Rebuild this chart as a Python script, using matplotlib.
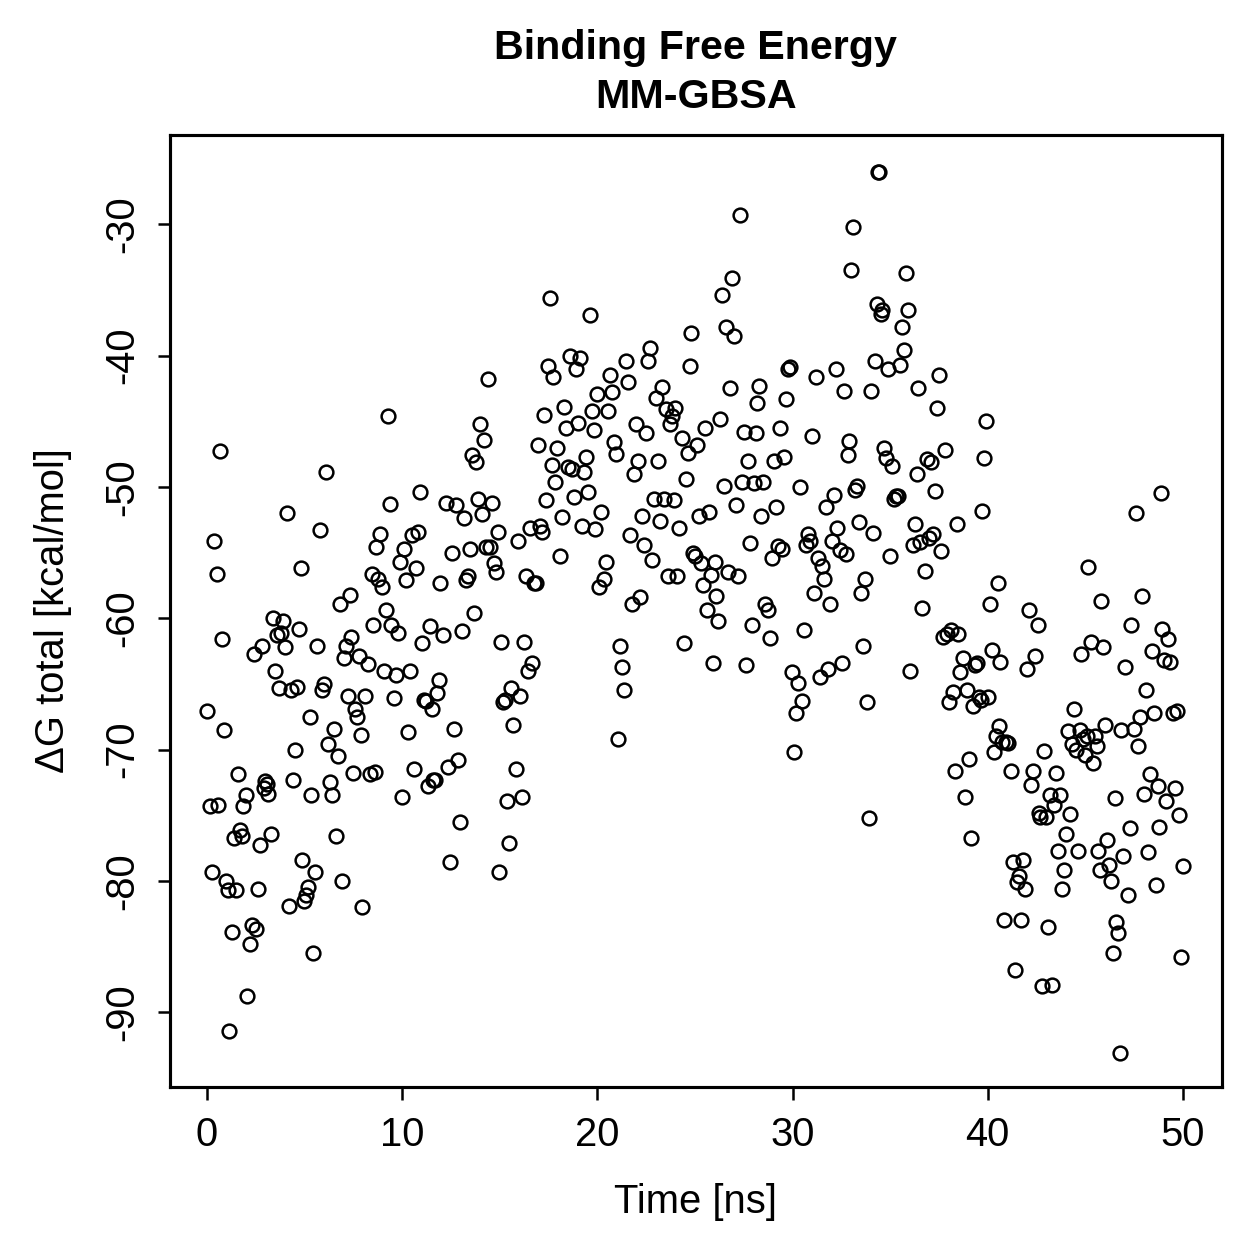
import matplotlib
matplotlib.use('Agg')
import matplotlib.pyplot as plt

plt.rcParams['font.family'] = ['Liberation Sans', 'DejaVu Sans']

# time [ns] and total binding free energy [kcal/mol]
time_ns = [
    0.0, 0.15, 0.25, 0.35, 0.5, 0.55, 0.65, 0.75, 0.85, 0.95,
    1.05, 1.15, 1.3, 1.4, 1.5, 1.6, 1.7, 1.8, 1.85, 2.0,
    2.05, 2.2, 2.3, 2.4, 2.5, 2.6, 2.7, 2.8, 2.9, 2.95,
    3.05, 3.1, 3.3, 3.4, 3.5, 3.6, 3.7, 3.8, 3.9, 4.0,
    4.1, 4.2, 4.3, 4.4, 4.5, 4.6, 4.7, 4.8, 4.85, 4.95,
    5.05, 5.15, 5.25, 5.35, 5.45, 5.55, 5.65, 5.8, 5.9, 6.0,
    6.1, 6.2, 6.3, 6.4, 6.5, 6.6, 6.7, 6.8, 6.9, 7.0,
    7.1, 7.2, 7.3, 7.4, 7.5, 7.6, 7.7, 7.8, 7.9, 7.95,
    8.1, 8.25, 8.35, 8.45, 8.5, 8.6, 8.65, 8.75, 8.85, 8.95,
    9.05, 9.15, 9.25, 9.35, 9.45, 9.6, 9.7, 9.8, 9.9, 10.0,
    10.1, 10.2, 10.3, 10.4, 10.5, 10.6, 10.7, 10.8, 10.9, 11.0,
    11.1, 11.2, 11.3, 11.4, 11.5, 11.6, 11.7, 11.8, 11.9, 11.95,
    12.1, 12.25, 12.35, 12.45, 12.55, 12.65, 12.75, 12.85, 12.95, 13.05,
    13.15, 13.25, 13.35, 13.45, 13.6, 13.7, 13.8, 13.9, 14.0, 14.1,
    14.2, 14.3, 14.4, 14.5, 14.6, 14.7, 14.8, 14.9, 14.95, 15.05,
    15.15, 15.25, 15.35, 15.45, 15.55, 15.7, 15.85, 15.95, 16.05, 16.15,
    16.25, 16.35, 16.45, 16.55, 16.65, 16.75, 16.85, 16.95, 17.05, 17.15,
    17.25, 17.35, 17.45, 17.55, 17.65, 17.75, 17.85, 17.95, 18.1, 18.2,
    18.3, 18.4, 18.5, 18.6, 18.7, 18.8, 18.9, 19.0, 19.1, 19.2,
    19.3, 19.4, 19.5, 19.6, 19.7, 19.8, 19.9, 20.0, 20.1, 20.2,
    20.35, 20.45, 20.55, 20.65, 20.75, 20.85, 20.95, 21.05, 21.15, 21.25,
    21.35, 21.45, 21.55, 21.65, 21.75, 21.9, 22.0, 22.1, 22.2, 22.3,
    22.4, 22.5, 22.6, 22.7, 22.8, 22.9, 23.0, 23.1, 23.2, 23.3,
    23.4, 23.5, 23.6, 23.7, 23.8, 23.9, 24.0, 24.1, 24.2, 24.35,
    24.45, 24.55, 24.65, 24.75, 24.8, 24.9, 25.0, 25.1, 25.2, 25.3,
    25.4, 25.5, 25.6, 25.7, 25.8, 25.9, 26.0, 26.1, 26.2, 26.3,
    26.4, 26.5, 26.6, 26.7, 26.8, 26.9, 27.0, 27.1, 27.2, 27.3,
    27.4, 27.5, 27.6, 27.7, 27.8, 27.9, 28.0, 28.1, 28.2, 28.3,
    28.4, 28.5, 28.6, 28.75, 28.85, 28.95, 29.05, 29.15, 29.25, 29.35,
    29.45, 29.55, 29.65, 29.75, 29.85, 29.95, 30.05, 30.2, 30.3, 30.4,
    30.5, 30.6, 30.7, 30.8, 30.9, 31.0, 31.1, 31.2, 31.3, 31.4,
    31.5, 31.6, 31.7, 31.8, 31.9, 32.0, 32.1, 32.2, 32.3, 32.45,
    32.55, 32.65, 32.75, 32.85, 32.9, 33.0, 33.1, 33.2, 33.3, 33.4,
    33.5, 33.6, 33.7, 33.8, 33.9, 34.0, 34.1, 34.2, 34.3, 34.4,
    34.45, 34.55, 34.6, 34.7, 34.8, 34.9, 35.0, 35.1, 35.2, 35.3,
    35.4, 35.5, 35.6, 35.7, 35.8, 35.9, 36.0, 36.15, 36.25, 36.35,
    36.45, 36.55, 36.65, 36.8, 36.9, 37.0, 37.1, 37.2, 37.3, 37.4,
    37.5, 37.6, 37.7, 37.8, 37.9, 38.0, 38.1, 38.2, 38.3, 38.4,
    38.5, 38.6, 38.75, 38.85, 38.95, 39.05, 39.15, 39.25, 39.35, 39.45,
    39.55, 39.65, 39.7, 39.8, 39.9, 40.0, 40.1, 40.2, 40.3, 40.4,
    40.5, 40.55, 40.65, 40.75, 40.85, 40.95, 41.05, 41.2, 41.3, 41.4,
    41.5, 41.6, 41.7, 41.8, 41.9, 42.0, 42.1, 42.2, 42.3, 42.4,
    42.55, 42.6, 42.7, 42.8, 42.9, 43.0, 43.1, 43.2, 43.3, 43.4,
    43.5, 43.6, 43.7, 43.8, 43.9, 44.0, 44.1, 44.2, 44.3, 44.4,
    44.5, 44.6, 44.7, 44.8, 44.9, 45.0, 45.1, 45.15, 45.3, 45.4,
    45.5, 45.6, 45.65, 45.75, 45.8, 45.9, 46.0, 46.1, 46.2, 46.3,
    46.4, 46.5, 46.55, 46.65, 46.75, 46.85, 46.95, 47.05, 47.2, 47.3,
    47.35, 47.5, 47.6, 47.7, 47.8, 47.9, 48.0, 48.1, 48.2, 48.3,
    48.4, 48.5, 48.6, 48.7, 48.75, 48.9, 48.95, 49.05, 49.15, 49.25,
    49.35, 49.5, 49.6, 49.7, 49.8, 49.9, 50.0,
]

dg_total = [
    -67.1, -74.3, -79.3, -54.1, -56.6, -74.2, -47.3, -61.6, -68.5, -80.0,
    -80.7, -91.4, -83.9, -76.7, -80.7, -71.9, -76.1, -76.6, -74.3, -73.5,
    -88.8, -84.8, -83.4, -62.7, -83.7, -80.6, -77.3, -62.1, -72.9, -72.4,
    -72.6, -73.4, -76.4, -60.0, -64.0, -61.3, -65.3, -61.1, -60.2, -62.2,
    -52.0, -81.9, -65.5, -72.3, -70.0, -65.2, -60.8, -56.2, -78.4, -81.5,
    -81.1, -80.5, -67.5, -73.5, -85.5, -79.3, -62.1, -53.3, -65.5, -65.0,
    -48.9, -69.6, -72.5, -73.5, -68.4, -76.6, -70.5, -58.9, -80.0, -63.0,
    -62.1, -65.9, -58.2, -61.4, -71.8, -66.9, -67.5, -62.9, -68.9, -82.0,
    -65.9, -63.5, -71.9, -56.6, -60.5, -71.7, -54.6, -57.0, -53.6, -57.6,
    -64.0, -59.4, -44.6, -51.3, -60.5, -66.1, -64.3, -61.1, -55.7, -73.6,
    -54.7, -57.1, -68.7, -64.0, -53.7, -71.5, -56.2, -53.4, -50.4, -61.9,
    -66.2, -66.3, -72.8, -60.6, -66.9, -72.3, -72.3, -65.7, -64.7, -57.3,
    -61.3, -51.2, -71.3, -78.6, -55.0, -68.4, -51.4, -70.8, -75.5, -61.0,
    -52.4, -57.1, -56.8, -54.7, -47.6, -59.6, -48.1, -50.9, -45.2, -52.1,
    -46.4, -54.6, -41.8, -54.6, -51.2, -55.8, -56.5, -53.4, -79.3, -61.8,
    -66.4, -66.2, -73.9, -77.1, -65.3, -68.1, -71.5, -54.1, -65.9, -73.6,
    -61.8, -56.8, -64.0, -53.1, -63.4, -57.3, -57.3, -46.8, -53.0, -53.4,
    -44.5, -51.0, -40.8, -35.6, -48.3, -41.6, -49.6, -47.0, -55.3, -52.3,
    -43.9, -45.5, -48.5, -40.0, -48.6, -50.8, -41.0, -45.1, -40.2, -53.0,
    -48.9, -47.7, -50.4, -36.9, -44.2, -45.7, -53.2, -42.9, -57.6, -51.9,
    -57.0, -55.7, -44.2, -41.5, -42.8, -46.6, -47.5, -69.2, -62.1, -63.7,
    -65.5, -40.4, -42.0, -53.7, -58.9, -49.0, -45.2, -48.0, -58.4, -52.2,
    -54.4, -45.9, -40.4, -39.4, -55.6, -50.9, -43.2, -48.0, -52.6, -42.4,
    -50.9, -44.1, -56.8, -45.2, -44.6, -51.0, -44.0, -56.8, -53.1, -46.3,
    -61.9, -49.4, -47.4, -40.8, -38.3, -55.0, -55.3, -46.8, -52.2, -55.8,
    -57.5, -45.5, -59.4, -51.9, -56.7, -63.4, -55.7, -58.3, -60.2, -44.8,
    -35.4, -49.9, -37.8, -56.5, -42.5, -34.1, -38.5, -51.4, -56.8, -29.3,
    -49.6, -45.8, -63.6, -48.0, -54.3, -60.5, -49.7, -45.9, -43.6, -42.3,
    -52.2, -49.6, -58.9, -59.4, -61.5, -55.4, -48.0, -51.5, -54.5, -45.5,
    -54.7, -47.7, -43.3, -41.0, -40.9, -64.1, -70.2, -67.2, -64.9, -50.0,
    -66.3, -60.9, -54.4, -53.6, -54.1, -46.1, -58.1, -41.6, -55.4, -64.5,
    -56.0, -57.0, -51.5, -63.9, -58.9, -54.1, -50.6, -41.0, -53.1, -54.8,
    -63.4, -42.7, -55.1, -47.6, -46.5, -33.5, -30.2, -50.2, -49.9, -52.7,
    -58.1, -62.1, -57.0, -66.4, -75.2, -42.7, -53.5, -40.4, -36.1, -26.0,
    -26.0, -36.8, -36.5, -47.0, -47.8, -41.0, -55.3, -48.4, -50.9, -50.7,
    -50.7, -40.7, -37.8, -39.6, -33.7, -36.5, -64.0, -54.4, -52.8, -49.0,
    -42.5, -54.2, -59.2, -56.4, -47.9, -53.9, -48.1, -53.6, -50.3, -44.0,
    -41.5, -54.9, -61.4, -47.2, -61.2, -66.4, -60.9, -65.6, -71.6, -52.8,
    -61.2, -64.1, -63.0, -73.6, -65.5, -70.7, -76.7, -66.7, -63.6, -63.4,
    -66.0, -66.2, -51.8, -47.8, -45.0, -66.0, -58.9, -62.4, -70.2, -69.0,
    -57.3, -68.2, -63.3, -69.4, -83.0, -69.4, -69.5, -71.6, -78.6, -86.8,
    -80.1, -79.6, -83.0, -78.4, -80.6, -63.9, -59.4, -72.7, -71.6, -62.9,
    -60.5, -74.8, -75.1, -88.0, -70.1, -75.1, -83.5, -73.5, -87.9, -74.2,
    -71.8, -77.7, -73.5, -80.6, -79.2, -76.4, -68.6, -74.9, -69.6, -66.9,
    -70.0, -77.7, -68.5, -62.7, -69.2, -70.4, -69.0, -56.1, -61.8, -71.0,
    -69.0, -69.7, -77.7, -79.2, -58.7, -62.2, -68.1, -76.9, -78.8, -80.0,
    -85.5, -73.7, -83.1, -84.0, -93.1, -68.5, -78.1, -63.7, -81.1, -76.0,
    -60.5, -68.4, -52.0, -69.7, -67.5, -58.3, -73.4, -65.5, -77.8, -71.9,
    -62.5, -67.2, -80.3, -72.8, -75.9, -50.5, -60.8, -63.2, -73.9, -61.6,
    -63.3, -67.2, -72.9, -67.1, -75.0, -85.8, -78.9,
]

x_ticks = [0, 10, 20, 30, 40, 50]
y_ticks = [-30, -40, -50, -60, -70, -80, -90]

fig = plt.figure(figsize=(1259 / 300, 1259 / 300), dpi=300)
ax = fig.add_axes([0.135, 0.1366, 0.8356, 0.7562])

ax.plot(time_ns, dg_total, linestyle='none', marker='o', markersize=3.3,
        markerfacecolor='none', markeredgecolor='black', markeredgewidth=0.6)

ax.set_xlim(-1.9, 52.0)
ax.set_ylim(-95.7, -23.2)
ax.set_xticks(x_ticks)
ax.set_yticks(y_ticks)
ax.set_yticklabels([str(v) for v in y_ticks], rotation=90, va='center')

for s in ax.spines.values():
    s.set_linewidth(0.75)
ax.tick_params(direction='out', length=3.0, width=0.6, labelsize=9.6, pad=4)

ax.set_xlabel('Time [ns]', fontsize=9.6, labelpad=7)
ax.set_ylabel('\u0394G total [kcal/mol]', fontsize=9.6, labelpad=7.5)
ax.set_title('Binding Free Energy\nMM-GBSA', fontsize=9.9, fontweight='bold',
             pad=6.5, linespacing=1.35)

fig.savefig('out.png', dpi=300)
